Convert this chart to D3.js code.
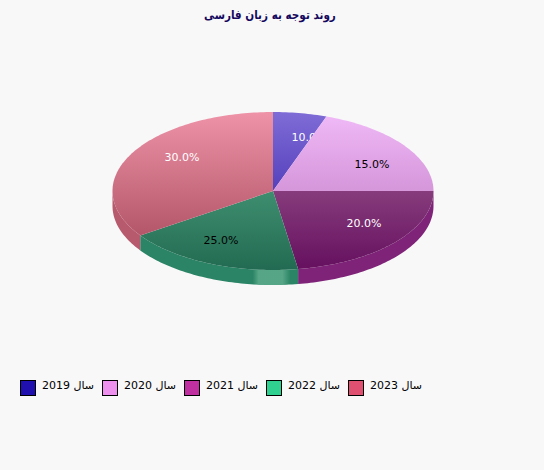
<!DOCTYPE html>
<html lang="fa">
<head>
<meta charset="utf-8">
<script src="https://cdn.jsdelivr.net/npm/d3@7"></script>
<style>
html,body{margin:0;padding:0;background:#f8f8f8}
svg{display:block}
text{font-family:"DejaVu Sans",sans-serif}
</style>
</head>
<body>
<svg id="c" width="544" height="470"></svg>
<script>
const titleText = "روند توجه به زبان فارسی";
const categories = ["سال 2019","سال 2020","سال 2021","سال 2022","سال 2023"];
const labelValues = [10,15,20,25,30];
// visible slice sizes as drawn in the picture (they differ from the printed labels)
const drawnShares = [5.4,19.6,22.5,18,34.5];
const legendColors = ["#2010b0","#ee90ee","#c030a0","#30d090","#e05070"];
const topColors = ["#7f6cd6","#efb8f6","#863c7c","#3f8e70","#ee93a8"];
const bottomColors = ["#5540bc","#d596da","#66105f","#226b52","#b4566a"];
const sideColors = ["#5540bc","#d596da","#7f2379","#2a8465","#b85a6e"];
const labelColors = ["#fff","#000","#fff","#000","#fff"];
const labelPos = [[309,137],[372,164],[364,223],[221,240],[182,157]];

const W=544,H=470,cx=273,cy=191,rx=160.5,ry=79,depth=15;
const svg=d3.select("#c");
const defs=svg.append("defs");
svg.append("rect").attr("width",W).attr("height",H).attr("fill","#f8f8f8");

svg.append("text").attr("transform","translate(270,19) scale(0.87,1)").attr("text-anchor","middle")
  .attr("font-size",12).attr("font-weight","bold").attr("fill","#14085e").text(titleText);

const pie=d3.pie().sort(null).value(d=>d)(drawnShares);
const px=a=>cx+rx*Math.sin(a), py=a=>cy-ry*Math.cos(a);

pie.forEach((d,i)=>{
  const g=defs.append("linearGradient").attr("id","g"+i).attr("x1",0).attr("x2",0).attr("y1",0).attr("y2",1);
  g.append("stop").attr("offset",0).attr("stop-color",topColors[i]);
  g.append("stop").attr("offset",1).attr("stop-color",bottomColors[i]);
});
const hl=defs.append("linearGradient").attr("id","hl");
[[0,0.05],[0.15,0.9],[0.8,0.9],[1,0.05]].forEach(s=>hl.append("stop").attr("offset",s[0]).attr("stop-color","#5aa98a").attr("stop-opacity",s[1]));

const steps=a=>{const out=[];const n=Math.max(2,Math.ceil(Math.abs(a[1]-a[0])/0.02));for(let k=0;k<=n;k++)out.push(a[0]+(a[1]-a[0])*k/n);return out;};
const line=d3.line();

// side walls: only the part of each slice facing the viewer
const sides=svg.append("g");
pie.forEach((d,i)=>{
  const a0=Math.max(d.startAngle,Math.PI/2),a1=Math.min(d.endAngle,Math.PI*1.5);
  if(a1<=a0)return;
  const s=steps([a0,a1]);
  const pts=s.map(a=>[px(a),py(a)]).concat(s.slice().reverse().map(a=>[px(a),py(a)+depth]));
  const p=line(pts)+"Z";
  sides.append("path").attr("d",p).attr("fill",sideColors[i]);
  if(i===3){
    defs.append("clipPath").attr("id","sideClip").append("path").attr("d",p);
    sides.append("rect").attr("x",253).attr("width",37).attr("y",cy).attr("height",ry+depth+2)
      .attr("fill","url(#hl)").attr("clip-path","url(#sideClip)");
  }
});
const topFace=svg.append("g");
pie.forEach((d,i)=>{
  const s=steps([d.startAngle,d.endAngle]);
  const pts=[[cx,cy]].concat(s.map(a=>[px(a),py(a)]));
  const g=topFace.append("g");
  g.append("path").attr("d",line(pts)+"Z").attr("fill",`url(#g${i})`);
  g.append("text").attr("x",labelPos[i][0]).attr("y",labelPos[i][1]+4).attr("text-anchor","middle")
    .attr("font-size",11).attr("fill",labelColors[i]).text(labelValues[i].toFixed(1)+"%");
});

const lg=svg.append("g");
const x0=d3.scaleLinear().domain([0,1]).range([20,102]);
categories.forEach((c,i)=>{
  lg.append("rect").attr("x",x0(i)+.5).attr("y",380.5).attr("width",15).attr("height",15)
    .attr("fill",legendColors[i]).attr("stroke","#000");
  lg.append("text").attr("x",x0(i)+22).attr("y",389).attr("font-size",11).attr("fill","#000")
    .attr("direction","ltr").text(c);
});
</script>
</body>
</html>
